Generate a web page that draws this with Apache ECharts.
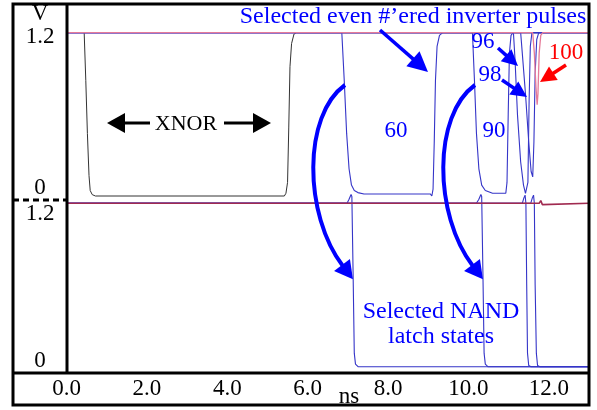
<!DOCTYPE html>
<html><head><meta charset="utf-8">
<script src="https://cdn.jsdelivr.net/npm/echarts@6/dist/echarts.min.js"></script>
<style>html,body{margin:0;padding:0;background:#fff}#c{width:597px;height:410px}</style>
</head><body><div id="c"></div>
<script>
// ---- data (time in ns, voltage in V) ----
const xTickValues = [0, 2, 4, 6, 8, 10, 12];
const xTickLabels = ['0.0', '2.0', '4.0', '6.0', '8.0', '10.0', '12.0'];
const yTickLabels = ['1.2', '0'];

// top panel: XNOR and selected even-numbered inverter outputs
const xnor = [[0.44,1.2],[0.48,0.85],[0.52,0.46],[0.56,0.15],[0.59,0.04],[0.64,0.01],[0.72,0],[5.42,0],[5.46,0.02],[5.5,0.1],[5.53,0.5],[5.56,0.95],[5.6,1.12],[5.66,1.19],[5.72,1.2],[13,1.2]];
const inv60 = [[0,1.2],[6.85,1.2],[6.91,0.85],[6.97,0.46],[7.03,0.2],[7.09,0.08],[7.16,0.04],[7.25,0.025],[7.4,0.015],[9.05,0.015],[9.09,0.0],[9.12,0.05],[9.15,0.4],[9.18,0.85],[9.22,1.1],[9.28,1.18],[9.36,1.2],[13,1.2]];
const inv90 = [[0,1.2],[10.1,1.2],[10.15,0.85],[10.2,0.46],[10.26,0.2],[10.33,0.08],[10.42,0.04],[10.6,0.02],[10.93,0.02],[10.96,0.1],[10.99,0.6],[11.02,1.05],[11.06,1.18],[11.11,1.2],[13,1.2]];
const inv96 = [[0,1.2],[11.12,1.2],[11.16,1.0],[11.22,0.6],[11.3,0.25],[11.37,0.08],[11.42,0.02],[11.45,0.01],[11.48,0.1],[11.51,0.7],[11.54,1.1],[11.58,1.2],[13,1.2]];
const inv98 = [[0,1.2],[11.3,1.2],[11.34,1.05],[11.42,0.75],[11.5,0.4],[11.56,0.18],[11.6,0.14],[11.63,0.4],[11.66,0.9],[11.7,1.15],[11.75,1.2],[13,1.2]];
const inv100 = [[0,1.2],[11.6,1.2],[11.64,1.05],[11.68,0.8],[11.71,0.67],[11.73,0.75],[11.76,1.05],[11.8,1.18],[11.85,1.2],[13,1.2]];

// bottom panel: selected NAND latch states
const latch60 = [[0,1.2],[6.98,1.2],[7.03,1.23],[7.08,1.265],[7.1,1.25],[7.13,0.7],[7.16,0.1],[7.19,0.02],[7.26,0],[13,0]];
const latch90 = [[0,1.2],[10.2,1.2],[10.26,1.23],[10.31,1.265],[10.33,1.25],[10.36,0.7],[10.39,0.1],[10.42,0.02],[10.49,0],[13,0]];
const latch96 = [[0,1.2],[11.34,1.2],[11.38,1.24],[11.41,1.26],[11.43,1.2],[11.45,0.6],[11.47,0.1],[11.5,0.01],[11.56,0],[13,0]];
const latch98 = [[0,1.2],[11.55,1.2],[11.59,1.24],[11.62,1.26],[11.64,1.2],[11.66,0.6],[11.69,0.1],[11.72,0.01],[11.78,0],[13,0]];
const latch100 = [[0,1.2],[11.76,1.2],[11.8,1.22],[11.84,1.19],[11.88,1.2],[13,1.2]];

// ---- chart ----
const FONT = '"Liberation Serif", "Times New Roman", serif';
const BLUE_LINE = '#3535c8';
const BLUE = '#0000ff';
const chart = echarts.init(document.getElementById('c'), null, {renderer: 'canvas'});

function ln(data, grid, color, width, z) {
  return {type: 'line', xAxisIndex: grid, yAxisIndex: grid, data: data, showSymbol: false, symbol: 'none',
    clip: false, z: z || 2, lineStyle: {color: color, width: width}, animation: false};
}

function arrow(x1, y1, x2, y2, color, lw, hl, hw) {
  const dx = x2 - x1, dy = y2 - y1, L = Math.hypot(dx, dy), ux = dx / L, uy = dy / L;
  const bx = x2 - ux * hl, by = y2 - uy * hl, px = -uy * hw / 2, py = ux * hw / 2;
  return [
    {type: 'line', z: 90, shape: {x1: x1, y1: y1, x2: bx + ux * 2, y2: by + uy * 2}, style: {stroke: color, lineWidth: lw}},
    {type: 'polygon', z: 90, shape: {points: [[x2, y2], [bx + px, by + py], [bx - px, by - py]]}, style: {fill: color}}
  ];
}
function curvedArrow(p0, p1, p2, p3, color, lw, hl, hw) {
  const dx = p3[0] - p2[0], dy = p3[1] - p2[1], L = Math.hypot(dx, dy), ux = dx / L, uy = dy / L;
  const tx = p3[0] + ux * hl, ty = p3[1] + uy * hl, px = -uy * hw / 2, py = ux * hw / 2;
  return [
    {type: 'bezierCurve', z: 90, shape: {x1: p0[0], y1: p0[1], cpx1: p1[0], cpy1: p1[1], cpx2: p2[0], cpy2: p2[1], x2: p3[0] + ux * 2, y2: p3[1] + uy * 2},
      style: {stroke: color, lineWidth: lw, fill: null}},
    {type: 'polygon', z: 90, shape: {points: [[tx, ty], [p3[0] + px, p3[1] + py], [p3[0] - px, p3[1] - py]]}, style: {fill: color}}
  ];
}
function txt(s, x, y, color, size) {
  return {type: 'text', z: 95, style: {text: s, x: x, y: y, fill: color, fontSize: size, fontFamily: FONT, align: 'center', verticalAlign: 'middle'}};
}

const graphics = [].concat(
  // frame
  [{type: 'rect', z: 100, shape: {x: 13, y: 4, width: 576, height: 401}, style: {stroke: '#000', lineWidth: 3, fill: null}},
   {type: 'line', z: 100, shape: {x1: 67, y1: 4, x2: 67, y2: 373}, style: {stroke: '#000', lineWidth: 3}},
   {type: 'line', z: 100, shape: {x1: 13, y1: 373, x2: 589, y2: 373}, style: {stroke: '#000', lineWidth: 3}},
   {type: 'line', z: 100, shape: {x1: 13, y1: 200, x2: 67, y2: 200}, style: {stroke: '#000', lineWidth: 3, lineDash: [6, 4]}}],
  // left column labels
  [txt('V', 40, 14, '#000', 23),
   txt(yTickLabels[0], 40, 37, '#000', 23), txt(yTickLabels[1], 40, 188, '#000', 23),
   txt(yTickLabels[0], 40, 214, '#000', 23), txt(yTickLabels[1], 40, 361, '#000', 23),
   txt('ns', 349, 397, '#000', 23)],
  // XNOR
  [txt('XNOR', 186, 124, '#000', 22)],
  arrow(150, 123, 107, 123, '#000', 3, 18, 20),
  arrow(224, 123, 271, 123, '#000', 3, 18, 20),
  // annotations top
  [txt('Selected even #\u2019ered inverter pulses', 413, 17, BLUE, 24),
   txt('60', 396, 131, BLUE, 23), txt('90', 494, 131, BLUE, 23),
   txt('96', 483, 42, BLUE, 23), txt('98', 490, 75, BLUE, 23),
   txt('100', 566, 53, '#ff0000', 23)],
  arrow(380, 30, 428, 72, BLUE, 3.5, 20, 20),
  arrow(498, 48, 518, 66, BLUE, 3.5, 16, 16),
  arrow(502, 80, 527, 97, BLUE, 3.5, 16, 16),
  arrow(566, 65, 540, 82, '#ff0000', 3.5, 16, 16),
  curvedArrow([345, 85], [303, 115], [303, 214], [342, 265], BLUE, 4, 18, 20),
  curvedArrow([475, 85], [433, 115], [433, 214], [472, 265], BLUE, 4, 18, 20),
  [txt('Selected NAND', 441, 312, BLUE, 24), txt('latch states', 441, 337, BLUE, 24)]
);

const option = {
  animation: false,
  backgroundColor: '#fff',
  grid: [
    {left: 66.5, right: 8, top: 32.7, height: 163.3},
    {left: 66.5, right: 8, top: 203.3, height: 163.5}
  ],
  xAxis: [
    {type: 'value', gridIndex: 0, min: 0, max: 13, interval: 2, show: false},
    {type: 'value', gridIndex: 1, min: 0, max: 13, interval: 2,
      axisLine: {show: false}, axisTick: {show: false}, splitLine: {show: false},
      axisLabel: {margin: 11, color: '#000', fontSize: 23, fontFamily: FONT,
        formatter: function (v) { const i = xTickValues.indexOf(v); return i >= 0 ? xTickLabels[i] : ''; }}}
  ],
  yAxis: [
    {type: 'value', gridIndex: 0, min: 0, max: 1.2, show: false},
    {type: 'value', gridIndex: 1, min: 0, max: 1.2, show: false}
  ],
  series: [
    ln(xnor, 0, '#333', 1, 2),
    ln(inv60, 0, BLUE_LINE, 1.1, 3),
    ln(inv90, 0, BLUE_LINE, 1.1, 3),
    ln(inv96, 0, BLUE_LINE, 1.1, 3),
    ln(inv98, 0, BLUE_LINE, 1.1, 3),
    ln(inv100, 0, '#e67a98', 1.3, 4),
    ln(latch60, 1, BLUE_LINE, 1.1, 3),
    ln(latch90, 1, BLUE_LINE, 1.1, 3),
    ln(latch96, 1, BLUE_LINE, 1.1, 3),
    ln(latch98, 1, BLUE_LINE, 1.1, 3),
    ln(latch100, 1, '#a02a50', 1.6, 4)
  ],
  graphic: {elements: graphics}
};
chart.setOption(option);
</script>
</body></html>
